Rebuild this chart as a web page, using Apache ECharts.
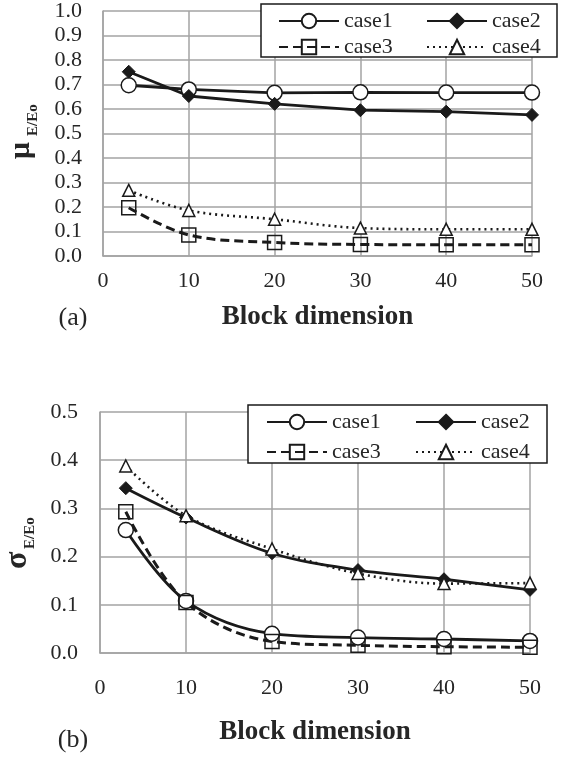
<!DOCTYPE html>
<html>
<head>
<meta charset="utf-8">
<script src="https://cdn.jsdelivr.net/npm/echarts@6/dist/echarts.min.js"></script>
<style>
html,body{margin:0;padding:0;background:#fff;}
#c{width:562px;height:757px;}
</style>
</head>
<body>
<div id="c"></div>
<script>
// ---- data ----
const blockDims = [3, 10, 20, 30, 40, 50];
const seriesNames = ['case1', 'case2', 'case3', 'case4'];
const xTicks = [0, 10, 20, 30, 40, 50];

// (a) mean mu_E/Eo
const muCase1 = [0.697, 0.680, 0.666, 0.668, 0.667, 0.667];
const muCase2 = [0.752, 0.653, 0.621, 0.595, 0.589, 0.576];
const muCase3 = [0.197, 0.086, 0.055, 0.047, 0.046, 0.046];
const muCase4 = [0.268, 0.186, 0.150, 0.114, 0.109, 0.109];

// (b) std sigma_E/Eo
const sdCase1 = [0.255, 0.108, 0.040, 0.032, 0.029, 0.025];
const sdCase2 = [0.342, 0.281, 0.207, 0.172, 0.153, 0.131];
const sdCase3 = [0.293, 0.105, 0.024, 0.016, 0.013, 0.012];
const sdCase4 = [0.388, 0.285, 0.216, 0.165, 0.144, 0.145];

const FONT = 'Liberation Serif';
const INK = '#1a1a1a';
const TXT = '#262626';
const GRID = '#a3a3a3';

const pairs = vals => blockDims.map((x, i) => [x, vals[i]]);

const styles = {
  case1: { symbol: 'circle', symbolSize: 15, lineStyle: { color: INK, width: 2.8, type: 'solid' }, itemStyle: { color: '#fff', borderColor: INK, borderWidth: 1.5 } },
  case2: { symbol: 'diamond', symbolSize: 13, lineStyle: { color: INK, width: 2.8, type: 'solid' }, itemStyle: { color: INK, borderColor: INK, borderWidth: 1 } },
  case3: { symbol: 'rect', symbolSize: 14, lineStyle: { color: INK, width: 3, type: [9, 5] }, itemStyle: { color: 'rgba(255,255,255,0)', borderColor: INK, borderWidth: 1.5 } },
  case4: { symbol: 'triangle', symbolSize: 12, lineStyle: { color: INK, width: 2.6, type: [2, 4] }, itemStyle: { color: '#fff', borderColor: INK, borderWidth: 1.5 } }
};

function mk(name, vals, gi, smooth) {
  const s = styles[name];
  return Object.assign({
    type: 'line', name: name, xAxisIndex: gi, yAxisIndex: gi,
    data: pairs(vals), smooth: smooth, z: 3, emphasis: { disabled: true }
  }, JSON.parse(JSON.stringify(s)));
}

const series = [
  mk('case1', muCase1, 0, false),
  mk('case2', muCase2, 0, false),
  mk('case3', muCase3, 0, 0.35),
  mk('case4', muCase4, 0, 0.35),
  mk('case1', sdCase1, 1, 0.35),
  mk('case2', sdCase2, 1, 0.35),
  mk('case3', sdCase3, 1, 0.35),
  mk('case4', sdCase4, 1, 0.35)
];

function xAxis(gi, margin, gap) {
  return {
    type: 'value', gridIndex: gi, min: xTicks[0], max: xTicks[xTicks.length - 1], interval: 10,
    axisLine: { show: true, lineStyle: { color: GRID, width: 1.5 } },
    axisTick: { show: false },
    splitLine: { show: true, lineStyle: { color: GRID, width: 1.5 } },
    axisLabel: { fontFamily: FONT, fontSize: 22, color: TXT, margin: margin },
    name: 'Block dimension', nameLocation: 'middle', nameGap: gap,
    nameTextStyle: { fontFamily: FONT, fontSize: 27, fontWeight: 'bold', color: TXT }
  };
}
function yAxis(gi, max, margin) {
  return {
    type: 'value', gridIndex: gi, min: 0, max: max, interval: 0.1,
    axisLine: { show: true, lineStyle: { color: GRID, width: 1.5 } },
    axisTick: { show: false },
    splitLine: { show: true, lineStyle: { color: GRID, width: 1.5 } },
    axisLabel: { fontFamily: FONT, fontSize: 22, color: TXT, margin: margin, formatter: v => v.toFixed(1) }
  };
}

function legendItem(name, left, top) {
  return {
    data: [name], left: left, top: top, orient: 'horizontal', padding: 0,
    itemWidth: 60, itemHeight: 18, itemGap: 0, selectedMode: false,
    textStyle: { fontFamily: FONT, fontSize: 22, color: TXT, padding: [0, 0, 0, 0] },
    z: 6
  };
}

const legends = [
  legendItem('case1', 278, 10), legendItem('case2', 426, 10),
  legendItem('case3', 278, 36), legendItem('case4', 426, 36),
  legendItem('case1', 266, 411), legendItem('case2', 415, 411),
  legendItem('case3', 266, 441), legendItem('case4', 415, 441)
];

function yName(x, y, main, mainSize, subX) {
  return {
    type: 'group', x: x, y: y, rotation: Math.PI / 2, z: 10,
    children: [
      { type: 'text', x: 0, y: 0, style: { text: main, font: 'bold ' + mainSize + 'px "' + FONT + '"', fill: TXT, align: 'left', verticalAlign: 'middle' } },
      { type: 'text', x: subX, y: 12, style: { text: 'E/Eo', font: 'bold 15px "' + FONT + '"', fill: TXT, align: 'left', verticalAlign: 'middle' } }
    ]
  };
}

const chart = echarts.init(document.getElementById('c'), null, { renderer: 'canvas' });
chart.setOption({
  backgroundColor: '#fff',
  animation: false,
  grid: [
    { left: 103, top: 11, width: 429, height: 245 },
    { left: 100, top: 412, width: 430, height: 241 }
  ],
  xAxis: [xAxis(0, 14, 48), xAxis(1, 24, 66)],
  yAxis: [yAxis(0, 1.0, 21), yAxis(1, 0.5, 22)],
  legend: legends,
  graphic: [
    { type: 'rect', shape: { x: 261, y: 4, width: 296, height: 53 }, style: { fill: '#fff', stroke: INK, lineWidth: 1.5 }, z: 5 },
    { type: 'rect', shape: { x: 248, y: 405, width: 299, height: 58 }, style: { fill: '#fff', stroke: INK, lineWidth: 1.5 }, z: 5 },
    yName(21, 159, 'μ', 30, 23),
    yName(18, 569, 'σ', 32, 20),
    { type: 'text', x: 73, y: 318, style: { text: '(a)', font: '26px "' + FONT + '"', fill: TXT, align: 'center', verticalAlign: 'middle' } },
    { type: 'text', x: 73, y: 740, style: { text: '(b)', font: '26px "' + FONT + '"', fill: TXT, align: 'center', verticalAlign: 'middle' } }
  ],
  series: series
});
</script>
</body>
</html>
